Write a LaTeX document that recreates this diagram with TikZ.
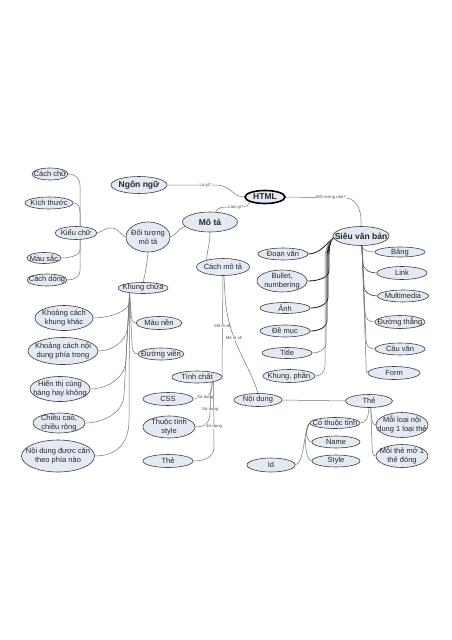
\documentclass[tikz,border=0pt]{standalone}
\usepackage{fontspec}
\setmainfont{Liberation Sans}
\usetikzlibrary{shapes.geometric,backgrounds}
\definecolor{ndfill}{RGB}{228,234,244}
\definecolor{ndline}{RGB}{60,60,60}
\definecolor{cnline}{RGB}{115,115,115}
\newcommand\bt{\bfseries\fontsize{8.5}{10}\selectfont}
\tikzset{
 nd/.style={ellipse, draw=ndline, line width=0.6pt, fill=ndfill, inner sep=0pt},
 htmlnd/.style={nd, draw=black, line width=1.6pt},
 lbl/.style={align=center, font=\fontsize{7.5}{9}\selectfont, inner sep=0pt, text=black!85},
 cn/.style={draw=cnline, line width=0.5pt},
 dk/.style={draw=black!90, line width=0.8pt},
 dkr/.style={draw=black!75, line width=0.6pt},
 el/.style={font=\fontsize{4.2}{5}\selectfont, fill=white, inner sep=0.4pt, text=black!70},
}
\begin{document}
\begin{tikzpicture}[x=1pt,y=-1pt]
\useasboundingbox (0,0) rectangle (452,640);
% left group
\node[nd, minimum width=36pt, minimum height=12pt, label={[lbl]center:{Cách chữ}}] (cachchu) at (50,174) {};
\node[nd, minimum width=48pt, minimum height=12pt, label={[lbl]center:{Kích thước}}] (kichthuoc) at (49,203) {};
\node[nd, minimum width=42pt, minimum height=13pt, label={[lbl]center:{Kiểu chữ}}] (kieuchu) at (76,233) {};
\node[nd, minimum width=34pt, minimum height=11pt, label={[lbl]center:{Màu sắc}}] (mausac) at (44,258) {};
\node[nd, minimum width=40pt, minimum height=12pt, label={[lbl]center:{Cách dòng}}] (cachdong) at (47,280) {};
\node[nd, minimum width=44pt, minimum height=30pt, label={[lbl]center:{Đối tượng\\mô tả}}] (doituong) at (148,237) {};
\node[nd, minimum width=56pt, minimum height=17pt, label={[lbl]center:{\bt Ngôn ngữ}}] (ngonngu) at (139,185) {};
\node[htmlnd, minimum width=40pt, minimum height=13pt, label={[lbl]center:{\bt HTML}}] (html) at (265,197) {};
\node[nd, minimum width=55pt, minimum height=20pt, label={[lbl]center:{\bt Mô tả}}] (mota) at (210,222) {};
\node[nd, minimum width=53pt, minimum height=17pt, label={[lbl]center:{Cách mô tả}}] (cachmota) at (223,267) {};
\node[nd, minimum width=50pt, minimum height=11pt, label={[lbl]center:{Khung chứa}}] (khungchua) at (143,288) {};
% hypertext group
\node[nd, minimum width=56pt, minimum height=19pt, label={[lbl]center:{\bt Siêu văn bản}}] (sieu) at (361,236) {};
\node[nd, minimum width=50pt, minimum height=12pt, label={[lbl]center:{Đoạn văn}}] (doanvan) at (283,254) {};
\node[nd, minimum width=50pt, minimum height=22pt, label={[lbl]center:{Bullet,\\numbering}}] (bullet) at (282,281) {};
\node[nd, minimum width=50pt, minimum height=11pt, label={[lbl]center:{Ảnh}}] (anh) at (285,308) {};
\node[nd, minimum width=50pt, minimum height=12pt, label={[lbl]center:{Đề mục}}] (demuc) at (285,331) {};
\node[nd, minimum width=50pt, minimum height=11pt, label={[lbl]center:{Title}}] (title) at (287,353) {};
\node[nd, minimum width=52pt, minimum height=13pt, label={[lbl]center:{Khung, phần}}] (khungphan) at (289,376) {};
\node[nd, minimum width=50pt, minimum height=10pt, label={[lbl]center:{Bảng}}] (bang) at (400,252) {};
\node[nd, minimum width=50pt, minimum height=13pt, label={[lbl]center:{Link}}] (link) at (402,273) {};
\node[nd, minimum width=51pt, minimum height=12pt, label={[lbl]center:{Multimedia}}] (multimedia) at (403,296) {};
\node[nd, minimum width=50pt, minimum height=13pt, label={[lbl]center:{Đường thẳng}}] (duongthang) at (400,322) {};
\node[nd, minimum width=50pt, minimum height=12pt, label={[lbl]center:{Câu văn}}] (cauvan) at (400,349) {};
\node[nd, minimum width=52pt, minimum height=13pt, label={[lbl]center:{Form}}] (form) at (394,373) {};
% container group
\node[nd, minimum width=58pt, minimum height=25pt, label={[lbl]center:{Khoảng cách\\khung khác}}] (kckhung) at (64,318) {};
\node[nd, minimum width=46pt, minimum height=13pt, label={[lbl]center:{Màu nền}}] (maunen) at (159,323) {};
\node[nd, minimum width=70pt, minimum height=27pt, label={[lbl]center:{Khoảng cách nội\\dung phía trong}}] (kcnoidung) at (63,351) {};
\node[nd, minimum width=46pt, minimum height=12pt, label={[lbl]center:{Đường viền}}] (duongvien) at (161,354) {};
\node[nd, minimum width=60pt, minimum height=25pt, label={[lbl]center:{Hiển thị cùng\\hàng hay không}}] (hienthi) at (60,389) {};
\node[nd, minimum width=52pt, minimum height=20pt, label={[lbl]center:{Chiều cao,\\chiều rộng}}] (chieucao) at (59,423) {};
\node[nd, minimum width=73pt, minimum height=32pt, label={[lbl]center:{Nội dung được căn\\theo phía nào}}] (noidungcan) at (58,456) {};
% property group
\node[nd, minimum width=50pt, minimum height=12pt, label={[lbl]center:{Tính chất}}] (tinhchat) at (197,377) {};
\node[nd, minimum width=50pt, minimum height=13pt, label={[lbl]center:{CSS}}] (css) at (168,399) {};
\node[nd, minimum width=52pt, minimum height=22pt, label={[lbl]center:{Thuộc tính\\style}}] (thuoctinh) at (169,427) {};
\node[nd, minimum width=50pt, minimum height=13pt, label={[lbl]center:{Thẻ}}] (theL) at (168,461) {};
\node[nd, minimum width=48pt, minimum height=13pt, label={[lbl]center:{Nội dung}}] (noidung) at (258,400) {};
\node[nd, minimum width=47pt, minimum height=13pt, label={[lbl]center:{Thẻ}}] (theR) at (369,401) {};
\node[nd, minimum width=50pt, minimum height=11pt, label={[lbl]center:{Có thuộc tính}}] (cothuoctinh) at (335,423) {};
\node[nd, minimum width=48pt, minimum height=12pt, label={[lbl]center:{Name}}] (name) at (336,442) {};
\node[nd, minimum width=48pt, minimum height=12pt, label={[lbl]center:{Style}}] (style) at (336,461) {};
\node[nd, minimum width=48pt, minimum height=14pt, label={[lbl]center:{Id}}] (id) at (271,465) {};
\node[nd, minimum width=52pt, minimum height=25pt, label={[lbl]center:{Mỗi loại nội\\dung 1 loại thẻ}}] (moiloai) at (402,425) {};
\node[nd, minimum width=52pt, minimum height=23pt, label={[lbl]center:{Mỗi thẻ mở 1\\thẻ đóng}}] (moithe) at (402,456) {};

\begin{pgfonlayer}{background}
% top
\draw[cn] (ngonngu.east) -- node[el,pos=0.8]{Là gì?} (215,185) .. controls (232,185) and (232,197) .. (html.west);
\draw[cn] (mota.60) .. controls (218,207) and (222,207) .. (230,207) -- node[el,pos=0.5]{Làm gì?} (242,207) .. controls (247,207) and (249,204) .. (html.198);
\draw[cn] (html.east) -- node[el,pos=0.75]{Đối tượng nào?} (346,198) .. controls (357,199) and (362,210) .. (sieu.north);
\draw[cn] (mota.190) .. controls (178,229) and (175,236) .. (doituong.east);
\draw[cn] (doituong.west) .. controls (120,234) and (118,229) .. (113,228) .. controls (106,227) and (102,232) .. (kieuchu.east);
% kieu chu
\draw[cn] (kieuchu.58) -- (80,186) .. controls (80,178) and (75,174) .. (cachchu.east);
\draw[cn] (kieuchu.58) -- (80,213) .. controls (80,206) and (78,203) .. (kichthuoc.east);
\draw[cn] (kieuchu.-58) -- (80,250) .. controls (80,256) and (68,258) .. (mausac.east);
\draw[cn] (kieuchu.-58) -- (80,270) .. controls (80,277) and (74,280) .. (cachdong.east);
\draw[cn] (doituong.south) .. controls (147,265) and (145,275) .. (khungchua.north);
% khung chua
\draw[cn] (khungchua.200) -- (130,300) .. controls (130,312) and (108,318) .. (kckhung.east);
\draw[cn] (khungchua.200) -- (128,325) .. controls (127,342) and (112,351) .. (kcnoidung.east);
\draw[cn] (khungchua.200) -- (126,360) .. controls (125,380) and (105,389) .. (hienthi.east);
\draw[cn] (khungchua.200) -- (124,395) .. controls (123,415) and (100,423) .. (chieucao.east);
\draw[cn] (khungchua.200) -- (129,420) .. controls (129,445) and (115,456) .. (noidungcan.east);
\draw[cn] (khungchua.200) -- (131,312) .. controls (131,320) and (133,323) .. (maunen.west);
\draw[cn] (khungchua.200) -- (132,343) .. controls (132,351) and (134,354) .. (duongvien.west);
% mo ta
\draw[cn] (mota.south) .. controls (210,245) and (207,250) .. (cachmota.157);
\draw[cn] (cachmota.south) -- node[el,pos=0.53]{Mô tả về} (222,371) .. controls (222,374) .. (tinhchat.east);
\draw[cn] (cachmota.-84) -- (225,295) .. controls (227,340) and (250,365) .. node[el,pos=0.37]{Mô tả về} (noidung.north);
\draw[cn] (tinhchat.-18) .. controls (212,396) and (208,398) .. node[el,pos=0.65]{Sử dụng} (css.east);
\draw[cn] (tinhchat.-20) -- node[el,pos=0.9]{Sử dụng} (210,412) .. controls (210,423) and (205,427) .. (thuoctinh.east);
\draw[cn] (tinhchat.-16) -- node[el,pos=0.69]{Sử dụng} (214,447) .. controls (214,457) and (205,461) .. (theL.east);
% noi dung / the
\draw[cn] (noidung.east) -- (theR.west);
\draw[cn] (theR.south) .. controls (368,419) and (366,423) .. (cothuoctinh.east);
\draw[cn] (theR.-75) .. controls (371,420) and (373,425) .. (moiloai.west);
\draw[cn] (theR.-75) -- (372,445) .. controls (372,452) and (373,456) .. (moithe.west);
\draw[cn] (cothuoctinh.west) .. controls (305,426) and (305,441) .. (name.west);
\draw[cn] (cothuoctinh.west) .. controls (304,430) and (304,460) .. (style.west);
\draw[cn] (cothuoctinh.west) .. controls (303,432) and (305,462) .. (id.east);
% sieu van ban left
\draw[dk] (sieu.184) .. controls (328,242) and (320,254) .. (doanvan.east);
\draw[dk] (sieu.184) .. controls (330,241) and (329,248) .. (329,258) -- (329,270) .. controls (329,278) and (318,281) .. (bullet.east);
\draw[dk] (sieu.184) .. controls (330,241) and (328,248) .. (328,258) -- (328,297) .. controls (328,305) and (318,308) .. (anh.east);
\draw[dk] (sieu.184) .. controls (330,241) and (327,248) .. (327,258) -- (327,320) .. controls (327,328) and (318,331) .. (demuc.east);
\draw[cn] (sieu.184) .. controls (330,241) and (326,248) .. (326,258) -- (326,342) .. controls (326,350) and (319,353) .. (title.east);
\draw[cn] (sieu.184) .. controls (330,241) and (325,248) .. (325,258) -- (325,365) .. controls (325,373) and (320,376) .. (khungphan.east);
% sieu van ban right
\draw[cn] (sieu.-85) .. controls (362,250) and (368,252) .. (bang.west);
\draw[dkr] (sieu.-85) -- (363,263) .. controls (363,270) and (370,273) .. (link.west);
\draw[dkr] (sieu.-85) -- (364,286) .. controls (364,293) and (371,296) .. (multimedia.west);
\draw[cn] (sieu.-85) -- (365,312) .. controls (365,319) and (369,322) .. (duongthang.west);
\draw[cn] (sieu.-85) -- (366,339) .. controls (366,346) and (369,349) .. (cauvan.west);
\draw[cn] (sieu.-85) -- (366,362) .. controls (366,369) and (366,373) .. (form.west);
\end{pgfonlayer}
\end{tikzpicture}
\end{document}
